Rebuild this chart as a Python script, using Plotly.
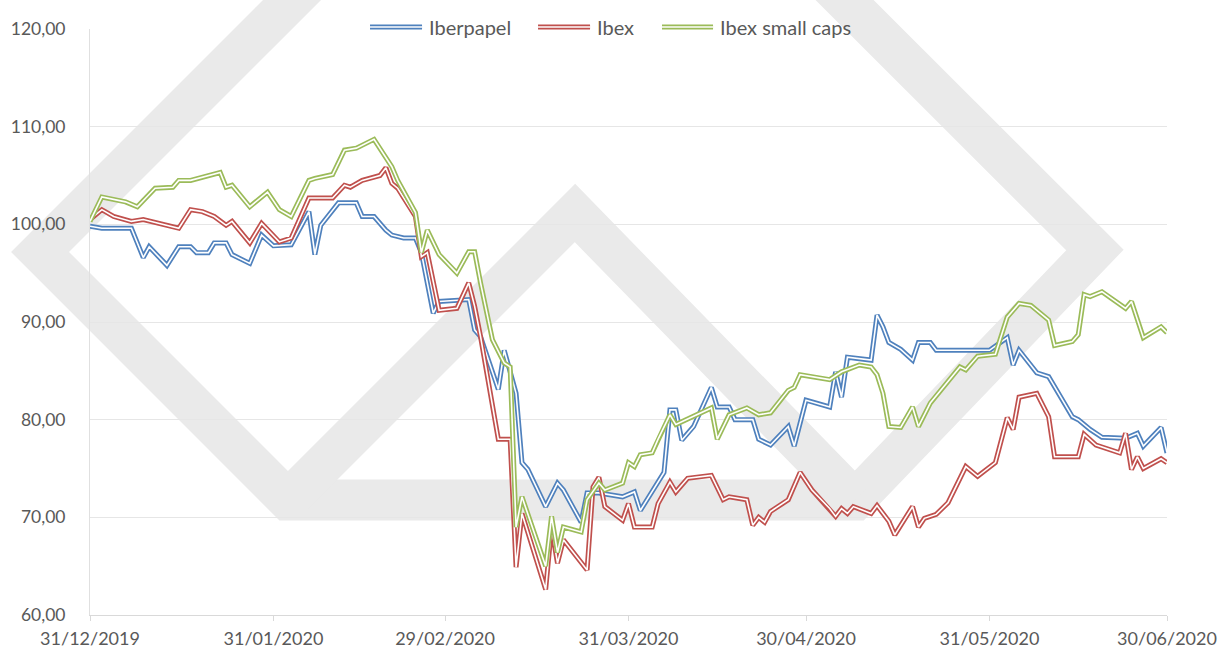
import plotly.graph_objects as go

# ---------------- data ----------------
iberpapel_dates = [
    "2019-12-31", "2020-01-02", "2020-01-07", "2020-01-09", "2020-01-10", "2020-01-13",
    "2020-01-15", "2020-01-17", "2020-01-18", "2020-01-20", "2020-01-21", "2020-01-23",
    "2020-01-24", "2020-01-27", "2020-01-29", "2020-01-31", "2020-02-03", "2020-02-06",
    "2020-02-07", "2020-02-08", "2020-02-11", "2020-02-14", "2020-02-15", "2020-02-17",
    "2020-02-19", "2020-02-20", "2020-02-22", "2020-02-24", "2020-02-25", "2020-02-27",
    "2020-02-28", "2020-03-04", "2020-03-05", "2020-03-06", "2020-03-09", "2020-03-10",
    "2020-03-12", "2020-03-13", "2020-03-14", "2020-03-17", "2020-03-19", "2020-03-20",
    "2020-03-23", "2020-03-24", "2020-03-26", "2020-03-30", "2020-04-01", "2020-04-02",
    "2020-04-06", "2020-04-07", "2020-04-08", "2020-04-09", "2020-04-11", "2020-04-14",
    "2020-04-15", "2020-04-17", "2020-04-18", "2020-04-21", "2020-04-22", "2020-04-24",
    "2020-04-27", "2020-04-28", "2020-04-30", "2020-05-04", "2020-05-05", "2020-05-06",
    "2020-05-07", "2020-05-11", "2020-05-12", "2020-05-13", "2020-05-14", "2020-05-16",
    "2020-05-18", "2020-05-19", "2020-05-21", "2020-05-22", "2020-05-31", "2020-06-03",
    "2020-06-04", "2020-06-05", "2020-06-08", "2020-06-10", "2020-06-14", "2020-06-15",
    "2020-06-17", "2020-06-19", "2020-06-23", "2020-06-25", "2020-06-26", "2020-06-29",
    "2020-06-30",
]
iberpapel_values = [
    99.8, 99.6, 99.6, 96.6, 97.7, 95.8,
    97.7, 97.7, 97.1, 97.1, 98.1, 98.1,
    96.9, 96.0, 98.9, 97.8, 97.9, 101.3,
    96.9, 99.9, 102.2, 102.2, 100.8, 100.8,
    99.4, 98.9, 98.6, 98.6, 97.1, 90.9,
    92.1, 92.3, 89.2, 88.5, 83.1, 87.1,
    82.7, 75.6, 74.9, 71.1, 73.5, 72.8,
    69.5, 72.5, 72.5, 72.1, 72.6, 70.7,
    74.6, 81.0, 81.0, 77.9, 79.3, 83.3,
    81.3, 81.3, 80.0, 80.0, 78.0, 77.4,
    79.3, 77.3, 82.0, 81.3, 84.9, 82.3,
    86.4, 86.1, 90.7, 89.5, 87.9, 87.2,
    86.1, 87.9, 87.9, 87.1, 87.1, 88.4,
    85.6, 87.1, 84.8, 84.4, 80.3, 80.0,
    79.0, 78.2, 78.1, 78.6, 77.3, 79.2,
    76.6,
]

ibex_dates = [
    "2019-12-31", "2020-01-02", "2020-01-04", "2020-01-07", "2020-01-09", "2020-01-13",
    "2020-01-15", "2020-01-17", "2020-01-19", "2020-01-21", "2020-01-23", "2020-01-24",
    "2020-01-27", "2020-01-29", "2020-02-01", "2020-02-03", "2020-02-06", "2020-02-10",
    "2020-02-12", "2020-02-13", "2020-02-15", "2020-02-18", "2020-02-19", "2020-02-20",
    "2020-02-21", "2020-02-24", "2020-02-25", "2020-02-26", "2020-02-28", "2020-03-02",
    "2020-03-04", "2020-03-05", "2020-03-06", "2020-03-09", "2020-03-11", "2020-03-12",
    "2020-03-13", "2020-03-17", "2020-03-18", "2020-03-19", "2020-03-20", "2020-03-24",
    "2020-03-25", "2020-03-26", "2020-03-27", "2020-03-30", "2020-03-31", "2020-04-01",
    "2020-04-04", "2020-04-05", "2020-04-07", "2020-04-08", "2020-04-10", "2020-04-14",
    "2020-04-16", "2020-04-17", "2020-04-20", "2020-04-21", "2020-04-22", "2020-04-23",
    "2020-04-24", "2020-04-27", "2020-04-29", "2020-05-01", "2020-05-04", "2020-05-05",
    "2020-05-06", "2020-05-07", "2020-05-08", "2020-05-11", "2020-05-12", "2020-05-14",
    "2020-05-15", "2020-05-18", "2020-05-19", "2020-05-20", "2020-05-22", "2020-05-24",
    "2020-05-27", "2020-05-29", "2020-06-01", "2020-06-03", "2020-06-04", "2020-06-05",
    "2020-06-08", "2020-06-10", "2020-06-11", "2020-06-15", "2020-06-16", "2020-06-18",
    "2020-06-22", "2020-06-23", "2020-06-24", "2020-06-25", "2020-06-26", "2020-06-29",
    "2020-06-30",
]
ibex_values = [
    100.5, 101.5, 100.8, 100.3, 100.5, 99.9,
    99.6, 101.5, 101.3, 100.8, 99.9, 100.3,
    98.1, 100.1, 98.2, 98.6, 102.7, 102.7,
    104.0, 103.8, 104.5, 105.0, 105.8, 104.2,
    103.7, 100.8, 96.7, 97.1, 91.2, 91.4,
    94.0, 91.6, 88.5, 78.0, 78.0, 64.9,
    70.4, 62.6, 69.0, 65.3, 67.7, 64.6,
    73.1, 74.1, 71.1, 69.7, 71.4, 69.0,
    69.0, 71.4, 73.6, 72.6, 74.0, 74.3,
    71.8, 72.1, 71.8, 69.2, 70.0, 69.5,
    70.6, 71.8, 74.6, 72.8, 70.9, 70.1,
    70.9, 70.4, 71.1, 70.4, 71.2, 69.6,
    68.2, 71.1, 69.0, 69.9, 70.3, 71.5,
    75.2, 74.2, 75.6, 80.2, 79.0, 82.3,
    82.7, 80.3, 76.2, 76.2, 78.5, 77.4,
    76.6, 78.6, 74.9, 76.2, 75.0, 76.0,
    75.6,
]

small_caps_dates = [
    "2019-12-31", "2020-01-02", "2020-01-06", "2020-01-08", "2020-01-11", "2020-01-14",
    "2020-01-15", "2020-01-17", "2020-01-22", "2020-01-23", "2020-01-24", "2020-01-27",
    "2020-01-30", "2020-02-01", "2020-02-03", "2020-02-06", "2020-02-07", "2020-02-10",
    "2020-02-12", "2020-02-14", "2020-02-17", "2020-02-19", "2020-02-20", "2020-02-21",
    "2020-02-24", "2020-02-25", "2020-02-26", "2020-02-28", "2020-03-02", "2020-03-04",
    "2020-03-05", "2020-03-06", "2020-03-08", "2020-03-10", "2020-03-11", "2020-03-12",
    "2020-03-13", "2020-03-17", "2020-03-18", "2020-03-19", "2020-03-20", "2020-03-23",
    "2020-03-24", "2020-03-26", "2020-03-27", "2020-03-30", "2020-03-31", "2020-04-01",
    "2020-04-02", "2020-04-04", "2020-04-05", "2020-04-07", "2020-04-08", "2020-04-14",
    "2020-04-15", "2020-04-17", "2020-04-20", "2020-04-22", "2020-04-24", "2020-04-27",
    "2020-04-28", "2020-04-29", "2020-05-04", "2020-05-06", "2020-05-09", "2020-05-11",
    "2020-05-12", "2020-05-13", "2020-05-14", "2020-05-16", "2020-05-18", "2020-05-19",
    "2020-05-21", "2020-05-26", "2020-05-27", "2020-05-29", "2020-06-01", "2020-06-03",
    "2020-06-05", "2020-06-07", "2020-06-10", "2020-06-11", "2020-06-14", "2020-06-15",
    "2020-06-16", "2020-06-17", "2020-06-19", "2020-06-23", "2020-06-24", "2020-06-26",
    "2020-06-29", "2020-06-30",
]
small_caps_values = [
    100.3, 102.8, 102.3, 101.8, 103.7, 103.8,
    104.5, 104.5, 105.3, 103.8, 104.0, 101.8,
    103.3, 101.5, 100.8, 104.5, 104.7, 105.1,
    107.6, 107.8, 108.7, 106.9, 105.9, 104.5,
    101.2, 97.1, 99.4, 96.9, 95.0, 97.2,
    97.2, 94.0, 88.2, 85.8, 85.4, 69.0,
    72.1, 65.0, 70.1, 66.4, 69.0, 68.5,
    71.8, 73.5, 72.8, 73.5, 75.6, 75.2,
    76.4, 76.6, 78.0, 80.5, 79.5, 81.2,
    78.0, 80.5, 81.2, 80.5, 80.7, 83.0,
    83.3, 84.6, 84.1, 84.9, 85.6, 85.4,
    84.6, 82.7, 79.3, 79.2, 81.3, 79.3,
    81.7, 85.4, 85.1, 86.5, 86.7, 90.5,
    91.9, 91.7, 90.2, 87.6, 88.0, 88.7,
    92.8, 92.6, 93.1, 91.4, 92.1, 88.4,
    89.5, 88.9,
]

series_names = ["Iberpapel", "Ibex", "Ibex small caps"]
series_colors = ["#4F81BD", "#C0504D", "#9BBB59"]

tick_dates = ["2019-12-31", "2020-01-31", "2020-02-29", "2020-03-31",
              "2020-04-30", "2020-05-31", "2020-06-30"]
tick_labels = ["31/12/2019", "31/01/2020", "29/02/2020", "31/03/2020",
               "30/04/2020", "31/05/2020", "30/06/2020"]
y_ticks = [60, 70, 80, 90, 100, 110, 120]

FONT = "Lato, Open Sans, sans-serif"
GREY_TEXT = "#595959"

# ---------------- figure ----------------
fig = go.Figure()
all_series = [
    (iberpapel_dates, iberpapel_values),
    (ibex_dates, ibex_values),
    (small_caps_dates, small_caps_values),
]
for (xs, ys), name, color in zip(all_series, series_names, series_colors):
    # outer coloured stroke
    fig.add_trace(go.Scatter(x=xs, y=ys, mode="lines", name=name, showlegend=False,
                             line=dict(color=color, width=5), hoverinfo="skip"))
    # white core -> Excel "double line" look
    fig.add_trace(go.Scatter(x=xs, y=ys, mode="lines", showlegend=False,
                             line=dict(color="white", width=1.6), hoverinfo="skip"))

# faint logo watermark behind the plot
band = "#EAEAEA"
fig.add_shape(type="path", xref="paper", yref="paper", layer="below",
              path="M 0.4439 1.5205 L -0.0464 0.6195 L 0.1838 0.1962 L 0.7103 0.1962 "
                   "L 0.9331 0.6229 Z",
              line=dict(color=band, width=41))
fig.add_shape(type="path", xref="paper", yref="paper", layer="below",
              path="M 0.1838 0.1962 L 0.4503 0.6860 L 0.7103 0.1962",
              line=dict(color=band, width=41))

# legend drawn as double-line keys + text (Excel style)
legend_key_x = [(0.2600, 0.3083), (0.4160, 0.4643), (0.5311, 0.5785)]
legend_y = 1.0034
for (x0, x1), name, color in zip(legend_key_x, series_names, series_colors):
    fig.add_shape(type="line", xref="paper", yref="paper", x0=x0, x1=x1,
                  y0=legend_y, y1=legend_y, line=dict(color=color, width=5), layer="above")
    fig.add_shape(type="line", xref="paper", yref="paper", x0=x0, x1=x1,
                  y0=legend_y, y1=legend_y, line=dict(color="white", width=1.6), layer="above")
    fig.add_annotation(xref="paper", yref="paper", x=x1 + 0.0045, y=legend_y,
                       xanchor="left", yanchor="middle", showarrow=False, text=name,
                       font=dict(family=FONT, size=20, color=GREY_TEXT))

fig.update_layout(
    width=1223, height=653,
    margin=dict(l=90, r=56, t=29, b=38, autoexpand=False),
    paper_bgcolor="white",
    plot_bgcolor="rgba(0,0,0,0)",
    separators=",.",
    showlegend=False,
    xaxis=dict(type="date", range=["2019-12-31", "2020-06-30"],
               tickmode="array", tickvals=tick_dates, ticktext=tick_labels,
               tickfont=dict(family=FONT, size=18, color=GREY_TEXT),
               showgrid=False, zeroline=False, automargin=False,
               showline=True, linecolor="#D9D9D9", linewidth=1,
               ticks="outside", ticklen=5, tickcolor="#D9D9D9",
               ticklabelstandoff=2),
    yaxis=dict(range=[60, 120], tickmode="array", tickvals=y_ticks,
               tickformat=".2f", tickfont=dict(family=FONT, size=17.5, color=GREY_TEXT),
               showgrid=True, gridcolor="#E6E6E6", gridwidth=1, zeroline=False,
               showline=True, linecolor="#E0E0E0", linewidth=1, automargin=False,
               ticks="", ticklabelstandoff=20),
)

# remove the default 8px page margin so the figure sits at the window origin
fig.write_html("out.html",
               config={"displayModeBar": False},
               post_script="document.body.style.margin='0px';"
                           "document.body.style.overflow='hidden';")
